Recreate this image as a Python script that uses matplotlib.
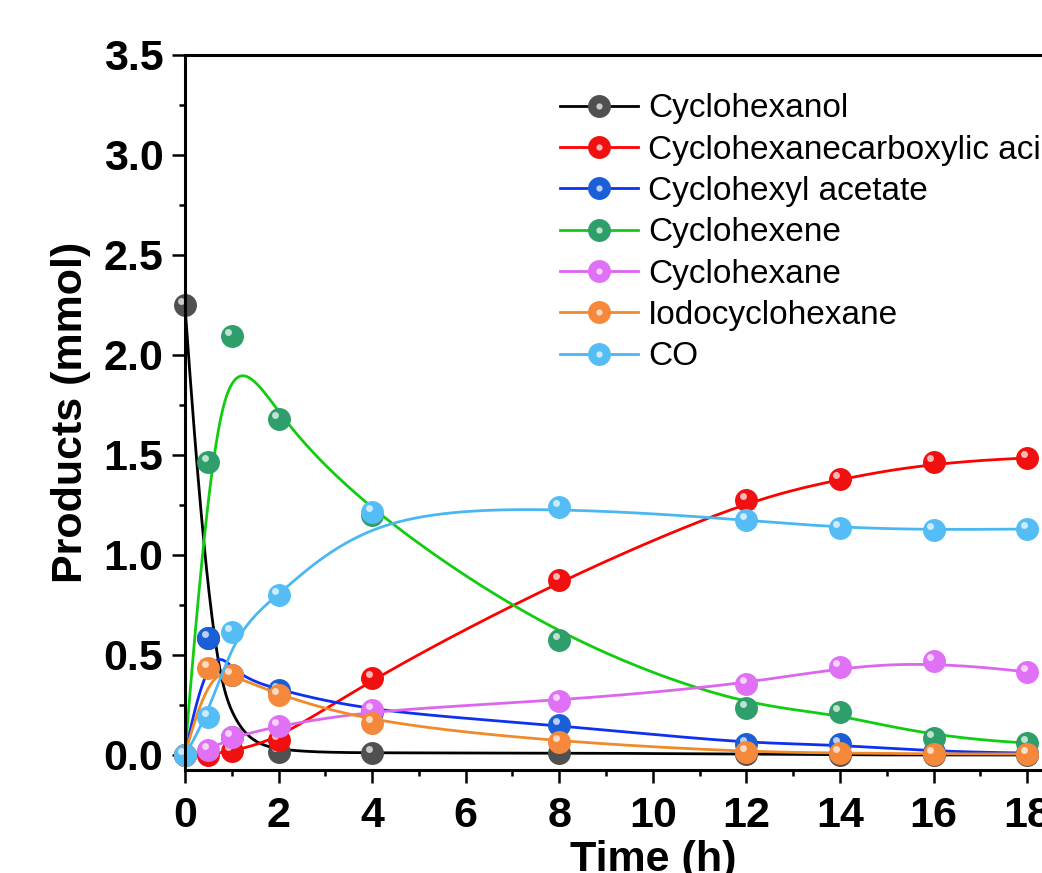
import numpy as np
import matplotlib
matplotlib.use("Agg")
import matplotlib.pyplot as plt
from matplotlib.transforms import offset_copy
from matplotlib.legend_handler import HandlerTuple
from matplotlib.ticker import MultipleLocator

plt.rcParams['font.family'] = ['Liberation Sans', 'DejaVu Sans']

# Data (time in h, products in mmol)
t_all = [0, 0.5, 1, 2, 4, 8, 12, 14, 16, 18]

cyclohexanol = [2.25, 0.585, 0.09, 0.015, 0.01, 0.01, 0.005, 0.0, 0.0, 0.0]
acid = [0.0, 0.0, 0.02, 0.075, 0.385, 0.875, 1.275, 1.38, 1.465, 1.485]
acetate = [0.0, 0.585, 0.40, 0.325, 0.215, 0.15, 0.055, 0.055, 0.015, 0.01]
cyclohexene = [0.0, 1.465, 2.095, 1.68, 1.20, 0.575, 0.235, 0.215, 0.085, 0.06]
cyclohexane = [0.0, 0.025, 0.09, 0.145, 0.225, 0.27, 0.355, 0.44, 0.47, 0.415]
iodo = [0.0, 0.435, 0.40, 0.30, 0.16, 0.065, 0.015, 0.01, 0.005, 0.005]
co = [0.0, 0.19, 0.615, 0.80, 1.215, 1.24, 1.175, 1.135, 1.125, 1.13]

labels = ["Cyclohexanol", "Cyclohexanecarboxylic acid", "Cyclohexyl acetate",
          "Cyclohexene", "Cyclohexane", "Iodocyclohexane", "CO"]
series = [cyclohexanol, acid, acetate, cyclohexene, cyclohexane, iodo, co]
line_colors = ["#000000", "#ff0000", "#1030f0", "#11cc11", "#dd66ee", "#f08a2a", "#4ab8f0"]
marker_colors = ["#505050", "#f01010", "#1a5fd8", "#2e9e6a", "#e070f5", "#f5883a", "#55bdf5"]


# B-spline line (data points used as control points, like Origin's B-Spline connect)
def bspline(x, y, n=500, k=3):
    P = np.column_stack([x, y])
    m = len(P)
    k = min(k, m - 1)
    knots = np.concatenate([np.zeros(k), np.linspace(0, 1, m - k + 1), np.ones(k)])
    u = np.linspace(0, 1, n)
    N = np.zeros((n, len(knots) - 1))
    for i in range(len(knots) - 1):
        N[:, i] = (knots[i] <= u) & (u < knots[i + 1])
    N[u >= 1, m - 1] = 1.0
    for d in range(1, k + 1):
        Nn = np.zeros((n, len(knots) - 1 - d))
        for i in range(len(knots) - 1 - d):
            a = knots[i + d] - knots[i]
            b = knots[i + d + 1] - knots[i + 1]
            term = np.zeros(n)
            if a > 0:
                term += (u - knots[i]) / a * N[:, i]
            if b > 0:
                term += (knots[i + d + 1] - u) / b * N[:, i + 1]
            Nn[:, i] = term
        N = Nn
    C = N @ P
    return C[:, 0], C[:, 1]


fig = plt.figure(figsize=(10.42, 8.73), dpi=100)
ax = fig.add_axes([0.1775, 0.118, 0.898, 0.819])

handles = []
for vals, lc, mc, lab in zip(series, line_colors, marker_colors, labels):
    xs, ys = bspline(t_all, vals)
    ax.plot(xs, ys, color=lc, lw=2.0)
    ax.plot(t_all, vals, ls='none', marker='o', ms=15.5, mfc=mc, mec=mc, clip_on=False)
    hl_tr = offset_copy(ax.transData, fig=fig, x=-2.5, y=3, units='points')
    ax.plot(t_all, vals, ls='none', marker='o', ms=5, mfc='white', mec='none',
            alpha=0.7, transform=hl_tr, clip_on=False)
    h1, = ax.plot([], [], color=lc, lw=2.0, marker='o', ms=15.5, mfc=mc, mec=mc)
    h2, = ax.plot([], [], ls='none', marker='o', ms=4.5, mfc='white', mec='none', alpha=0.7)
    handles.append((h1, h2))

ax.set_xlim(0, 20)
ax.set_ylim(-0.075, 3.5)
ax.xaxis.set_major_locator(MultipleLocator(2))
ax.xaxis.set_minor_locator(MultipleLocator(1))
ax.yaxis.set_major_locator(MultipleLocator(0.5))
ax.yaxis.set_minor_locator(MultipleLocator(0.25))
ax.yaxis.set_major_formatter(plt.FuncFormatter(lambda v, p: f"{v:.1f}"))

for s in ax.spines.values():
    s.set_linewidth(2.2)
ax.tick_params(which='major', direction='out', length=9.5, width=1.8, labelsize=31)
ax.tick_params(which='minor', direction='out', length=4.5, width=1.8)
ax.tick_params(axis='x', which='major', pad=9)
ax.tick_params(axis='y', which='major', pad=6)
for lbl in ax.get_xticklabels() + ax.get_yticklabels():
    lbl.set_fontweight('bold')

ax.set_xlabel("Time (h)", fontsize=31, fontweight='bold', labelpad=3)
ax.set_ylabel("Products (mmol)", fontsize=31, fontweight='bold', labelpad=9)

ax.legend(handles, labels, handler_map={tuple: HandlerTuple(ndivide=1)},
          loc='upper left', bbox_to_anchor=(0.537, 0.893), bbox_transform=fig.transFigure,
          frameon=False, fontsize=24, handlelength=2.35, handletextpad=0.3,
          labelspacing=0.31, borderpad=0, borderaxespad=0)

fig.savefig("out.png", dpi=100)
